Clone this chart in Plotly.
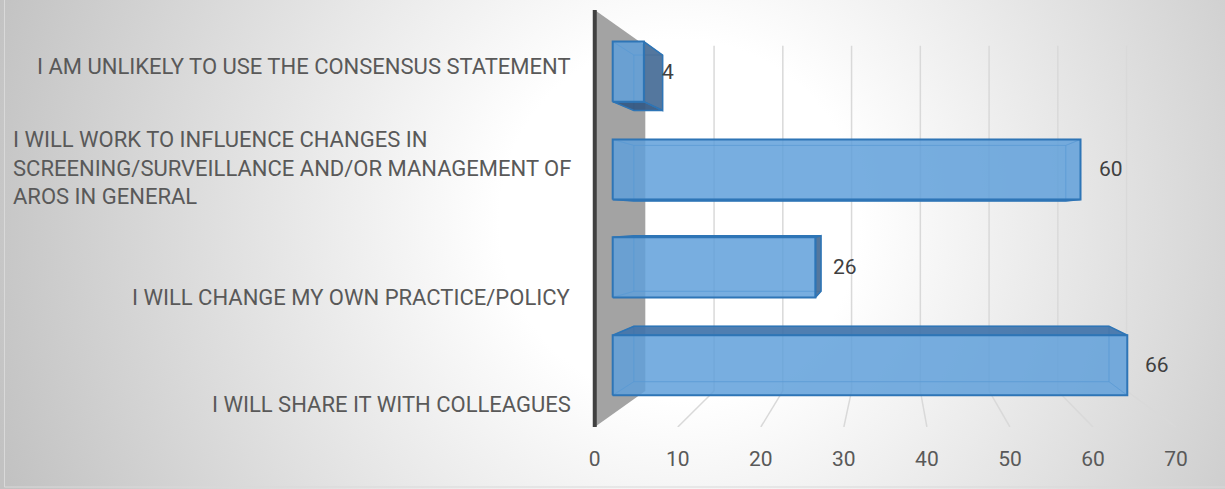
import base64

import plotly.graph_objects as go

# ---- data -----------------------------------------------------------------
categories = [
    "I WILL SHARE IT WITH COLLEAGUES",
    "I WILL CHANGE MY OWN PRACTICE/POLICY",
    "I WILL WORK TO INFLUENCE CHANGES IN<br>SCREENING/SURVEILLANCE AND/OR MANAGEMENT OF<br>AROS IN GENERAL",
    "I AM UNLIKELY TO USE THE CONSENSUS STATEMENT",
]
values = [66, 26, 60, 4]
x_ticks = [0, 10, 20, 30, 40, 50, 60, 70]

# ---- page / fake 3D projection ---------------------------------------------
W, H = 1225, 489
X0_PX, XPU = 595, 8.3          # pixel of value 0 on the front floor edge, px per unit
TOP_PX, BOT_PX = 10, 427       # front plane top / bottom
X_MIN = -2.5                   # a bit of room left of 0 so the wall edge is not clipped
Y_RANGE = [-0.5, len(categories) - 0.5]

PLOT_L = X0_PX + X_MIN * XPU
PLOT_W = (x_ticks[-1] - X_MIN) * XPU
PLOT_H = BOT_PX - TOP_PX

VX, VY = 35.4, 1.51            # vanishing point in data units
S_FRONT, S_BACK, S_WALL = 0.939, 0.867, 0.828   # depth scale of bar front/back and back wall
HALF = 0.307                   # half bar thickness (category units)

LABEL_RIGHT_PX = 573
LABEL_Y_PX = [404, 298, 168, 66]

BLUE_LINE = "#2E75B6"
TXT = "#595959"
FONT = "Roboto, Calibri, sans-serif"


def proj(v, c, s):
    return VX + (v - VX) * s, VY + (c - VY) * s


def add_poly(store, pts, close=True):
    seq = pts + pts[:1] if close else pts
    for v, c, s in seq:
        x, y = proj(v, c, s)
        store[0].append(x)
        store[1].append(y)
    store[0].append(None)
    store[1].append(None)


fig = go.Figure()

# side wall + gridlines
wall = ([], [])
add_poly(wall, [(0, Y_RANGE[1], 1), (0, Y_RANGE[1], S_WALL),
                (0, Y_RANGE[0], S_WALL), (0, Y_RANGE[0], 1)])
fig.add_trace(go.Scatter(x=wall[0], y=wall[1], mode="lines", fill="toself",
                         fillcolor="#A3A3A3", line=dict(width=0), hoverinfo="skip"))

grid = ([], [])
for t in x_ticks[1:]:
    add_poly(grid, [(t, Y_RANGE[0], S_WALL), (t, Y_RANGE[1], S_WALL)], close=False)
    add_poly(grid, [(t, Y_RANGE[0], S_WALL), (t, Y_RANGE[0], 1)], close=False)
fig.add_trace(go.Scatter(x=grid[0], y=grid[1], mode="lines",
                         line=dict(color="#D9D9D9", width=1.5), hoverinfo="skip"))

edge = ([], [])
add_poly(edge, [(0, Y_RANGE[0], 1), (0, Y_RANGE[1], 1)], close=False)
fig.add_trace(go.Scatter(x=edge[0], y=edge[1], mode="lines",
                         line=dict(color="#404040", width=4), hoverinfo="skip"))

# bars
hidden, tops, bottoms, rights, fronts = ([], []), ([], []), ([], []), ([], []), ([], [])
for i, v in enumerate(values):
    lo, hi = i - HALF, i + HALF
    F = lambda a, b: (a, b, S_FRONT)
    B = lambda a, b: (a, b, S_BACK)
    add_poly(hidden, [B(0, lo), B(v, lo), B(v, hi), B(0, hi)])
    add_poly(hidden, [F(0, lo), F(0, hi), B(0, hi), B(0, lo)])
    top = [F(0, hi), F(v, hi), B(v, hi), B(0, hi)]
    bot = [F(0, lo), F(v, lo), B(v, lo), B(0, lo)]
    right = [F(v, lo), F(v, hi), B(v, hi), B(v, lo)]
    add_poly(tops if hi < VY else hidden, top)
    add_poly(bottoms if lo > VY else hidden, bot)
    add_poly(rights if v < VX else hidden, right)
    add_poly(fronts, [F(0, lo), F(v, lo), F(v, hi), F(0, hi)])

for store, fill, line, width in [
    (hidden, "rgba(91,155,213,0.18)", "rgba(46,117,182,0.45)", 1),
    (tops, "rgba(66,116,170,0.92)", BLUE_LINE, 1.5),
    (bottoms, "rgba(52,88,130,0.92)", BLUE_LINE, 1.5),
    (rights, "rgba(72,108,150,0.92)", BLUE_LINE, 1.5),
    (fronts, "rgba(96,160,218,0.82)", BLUE_LINE, 2),
]:
    fig.add_trace(go.Scatter(x=store[0], y=store[1], mode="lines", fill="toself",
                             fillcolor=fill, line=dict(color=line, width=width),
                             hoverinfo="skip"))

# value labels
for i, v in enumerate(values):
    x, y = proj(v, i, S_FRONT)
    fig.add_annotation(x=x, y=y, text=str(v), showarrow=False, xanchor="left",
                       xshift=16, font=dict(size=21, color="#404040", family=FONT))

# category labels
for lab, py in zip(categories, LABEL_Y_PX):
    fig.add_annotation(xref="paper", yref="paper",
                       x=(LABEL_RIGHT_PX - PLOT_L) / PLOT_W,
                       y=(BOT_PX - py) / PLOT_H,
                       text=lab, showarrow=False, xanchor="right", yanchor="middle",
                       align="left", font=dict(size=22, color=TXT, family=FONT))

# radial background
svg = (
    f"<svg xmlns='http://www.w3.org/2000/svg' width='{W}' height='{H}'>"
    "<defs><radialGradient id='g' gradientUnits='userSpaceOnUse' cx='680' cy='220' r='720'>"
    "<stop offset='0' stop-color='#FFFFFF'/><stop offset='0.25' stop-color='#FFFFFF'/>"
    "<stop offset='1' stop-color='#C2C2C2'/></radialGradient></defs>"
    f"<rect width='{W}' height='{H}' fill='url(#g)'/></svg>"
)
bg = "data:image/svg+xml;base64," + base64.b64encode(svg.encode()).decode()
fig.add_layout_image(source=bg, xref="paper", yref="paper",
                     x=-PLOT_L / PLOT_W, y=1 + TOP_PX / PLOT_H,
                     sizex=W / PLOT_W, sizey=H / PLOT_H,
                     xanchor="left", yanchor="top", sizing="stretch", layer="below")

# outer chart border
fig.add_shape(type="rect", xref="paper", yref="paper",
              x0=(5 - PLOT_L) / PLOT_W, x1=(W + 10 - PLOT_L) / PLOT_W,
              y0=(BOT_PX - 487) / PLOT_H, y1=(BOT_PX + 10) / PLOT_H,
              line=dict(color="#D9D9D9", width=1), fillcolor="rgba(0,0,0,0)")

fig.update_layout(
    width=W, height=H,
    margin=dict(l=PLOT_L, r=W - PLOT_L - PLOT_W, t=TOP_PX, b=H - BOT_PX, pad=0),
    paper_bgcolor="#E2E2E2", plot_bgcolor="rgba(0,0,0,0)",
    showlegend=False,
    font=dict(family=FONT, color=TXT),
    xaxis=dict(range=[X_MIN, x_ticks[-1]], tickvals=x_ticks, showgrid=False,
               zeroline=False, showline=False, ticks="outside", ticklen=13,
               tickcolor="rgba(0,0,0,0)", tickfont=dict(size=21, color=TXT),
               fixedrange=True),
    yaxis=dict(range=Y_RANGE, visible=False, fixedrange=True),
)

fig.write_html("out.html", config={"displayModeBar": False},
               post_script="document.body.style.margin='0';")
